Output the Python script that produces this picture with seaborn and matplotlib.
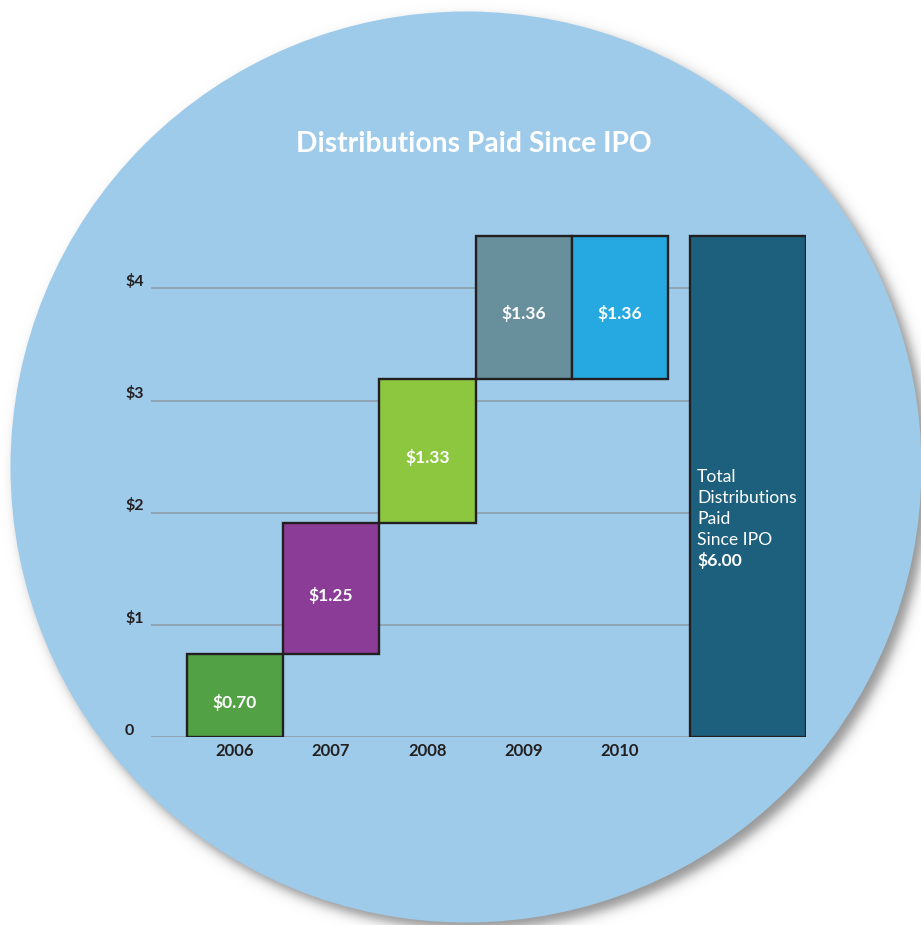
import numpy as np
import pandas as pd
import matplotlib
matplotlib.use("Agg")
import matplotlib.pyplot as plt
import seaborn as sns
from matplotlib.patches import Circle

# ---------------- data ----------------
years = ["2006", "2007", "2008", "2009", "2010"]
value_labels = ["$0.70", "$1.25", "$1.33", "$1.36", "$1.36"]
bar_bottoms = [0.0, 0.74, 1.91, 3.19, 3.19]   # drawn extents
bar_tops = [0.74, 1.91, 3.19, 4.47, 4.47]
bar_colors = ["#52A245", "#8B3C96", "#8DC63F", "#678F9C", "#25A9E0"]
total_top = 4.47
total_color = "#1D607D"
total_lines = ["Total", "Distributions", "Paid", "Since IPO"]
total_value = "$6.00"
ytick_vals = [0, 1, 2, 3, 4]
ytick_labels = ["0", "$1", "$2", "$3", "$4"]
title = "Distributions Paid Since IPO"

# ---------------- layout ----------------
W, H, DPI = 921, 925, 100
sns.set_theme(style="white")
plt.rcParams["font.family"] = ["Lato", "DejaVu Sans"]

DARK = "#231F20"
GRID = "#8E9AA6"
CIRCLE = "#9FCBEB"

fig = plt.figure(figsize=(W / DPI, H / DPI), dpi=DPI)
fig.patch.set_facecolor("white")

# background circle with drop shadow
bg = fig.add_axes([0, 0, 1, 1])
bg.set_xlim(0, W)
bg.set_ylim(H, 0)
bg.axis("off")
cx, cy, r = 466, 467, 455.5
yy, xx = np.mgrid[0:H, 0:W] + 0.5
d = np.hypot(xx - cx - 6, yy - cy - 7) - r
alpha = 0.65 / (1 + np.exp(d / 3.4))
rgba = np.zeros((H, W, 4))
rgba[..., :3] = 0.36
rgba[..., 3] = alpha
bg.imshow(rgba, extent=(0, W, H, 0), interpolation="bilinear", aspect="auto", zorder=0)
bg.add_patch(Circle((cx, cy), r, facecolor=CIRCLE, edgecolor="none", zorder=1))
bg.text(473.5, 151.5, title, color="white", fontsize=20.3, fontweight="bold",
        ha="center", va="baseline", zorder=2)

# main axes: pixel geometry
x0_px, unit_x = 234.8, 96.3        # centre of first category, px per category
y0_px, unit_y = 737.3, 112.25      # zero line, px per dollar
left_px, right_px, top_px = 151, 806, 200
ax = fig.add_axes([left_px / W, 1 - y0_px / H,
                   (right_px - left_px) / W, (y0_px - top_px) / H])
ax.set_facecolor("none")
for s in ax.spines.values():
    s.set_visible(False)

def px_x(px):
    return (px - x0_px) / unit_x

def px_y(py):
    return (y0_px - py) / unit_y

heights = list(np.subtract(bar_tops, bar_bottoms))
df = pd.DataFrame({"year": years, "height": heights})
sns.barplot(data=df, x="year", y="height", bottom=bar_bottoms, width=1.0,
            color=bar_colors[0], edgecolor=DARK, linewidth=1.7,
            errorbar=None, ax=ax, zorder=3)
for patch, c in zip(ax.patches, bar_colors):
    patch.set_facecolor(c)

total_x = px_x(748)
total_w = 116 / unit_x
ax.bar(total_x, total_top, width=total_w, color=total_color,
       edgecolor=DARK, linewidth=1.7, zorder=3)

# gridlines
ax.hlines(ytick_vals, px_x(151), px_x(690), color=GRID, linewidth=1.1, zorder=1)

ax.set_xlim(px_x(left_px), px_x(right_px))
ax.set_ylim(0, px_y(top_px))
ax.set_xticks([])
ax.set_yticks([])
ax.set_xlabel("")
ax.set_ylabel("")

# y tick labels
for v, lab in zip(ytick_vals, ytick_labels):
    ax.text(px_x(125), v + 2.5 / unit_y, lab, ha="left", va="baseline",
            fontsize=11.5, fontweight="bold", color=DARK, clip_on=False)

# x tick labels
for i, lab in enumerate(years):
    ax.text(i, px_y(756), lab, ha="center", va="baseline",
            fontsize=12, fontweight="bold", color=DARK, clip_on=False)

# value labels in bars
for i, (b, t, lab) in enumerate(zip(bar_bottoms, bar_tops, value_labels)):
    mid = (b + t) / 2
    ax.text(i, mid - 12 / unit_y, lab, ha="center", va="baseline",
            fontsize=12.5, fontweight="bold", color="white", zorder=4)

# total bar text
tx = px_x(697)
for k, line in enumerate(total_lines):
    ax.text(tx, px_y(481.7 + 21 * k), line, ha="left", va="baseline",
            fontsize=12.6, color="white", zorder=4)
ax.text(tx, px_y(481.7 + 21 * len(total_lines)), total_value, ha="left",
        va="baseline", fontsize=12.6, fontweight="bold", color="white", zorder=4)

fig.savefig("out.png", dpi=DPI, facecolor="white")
